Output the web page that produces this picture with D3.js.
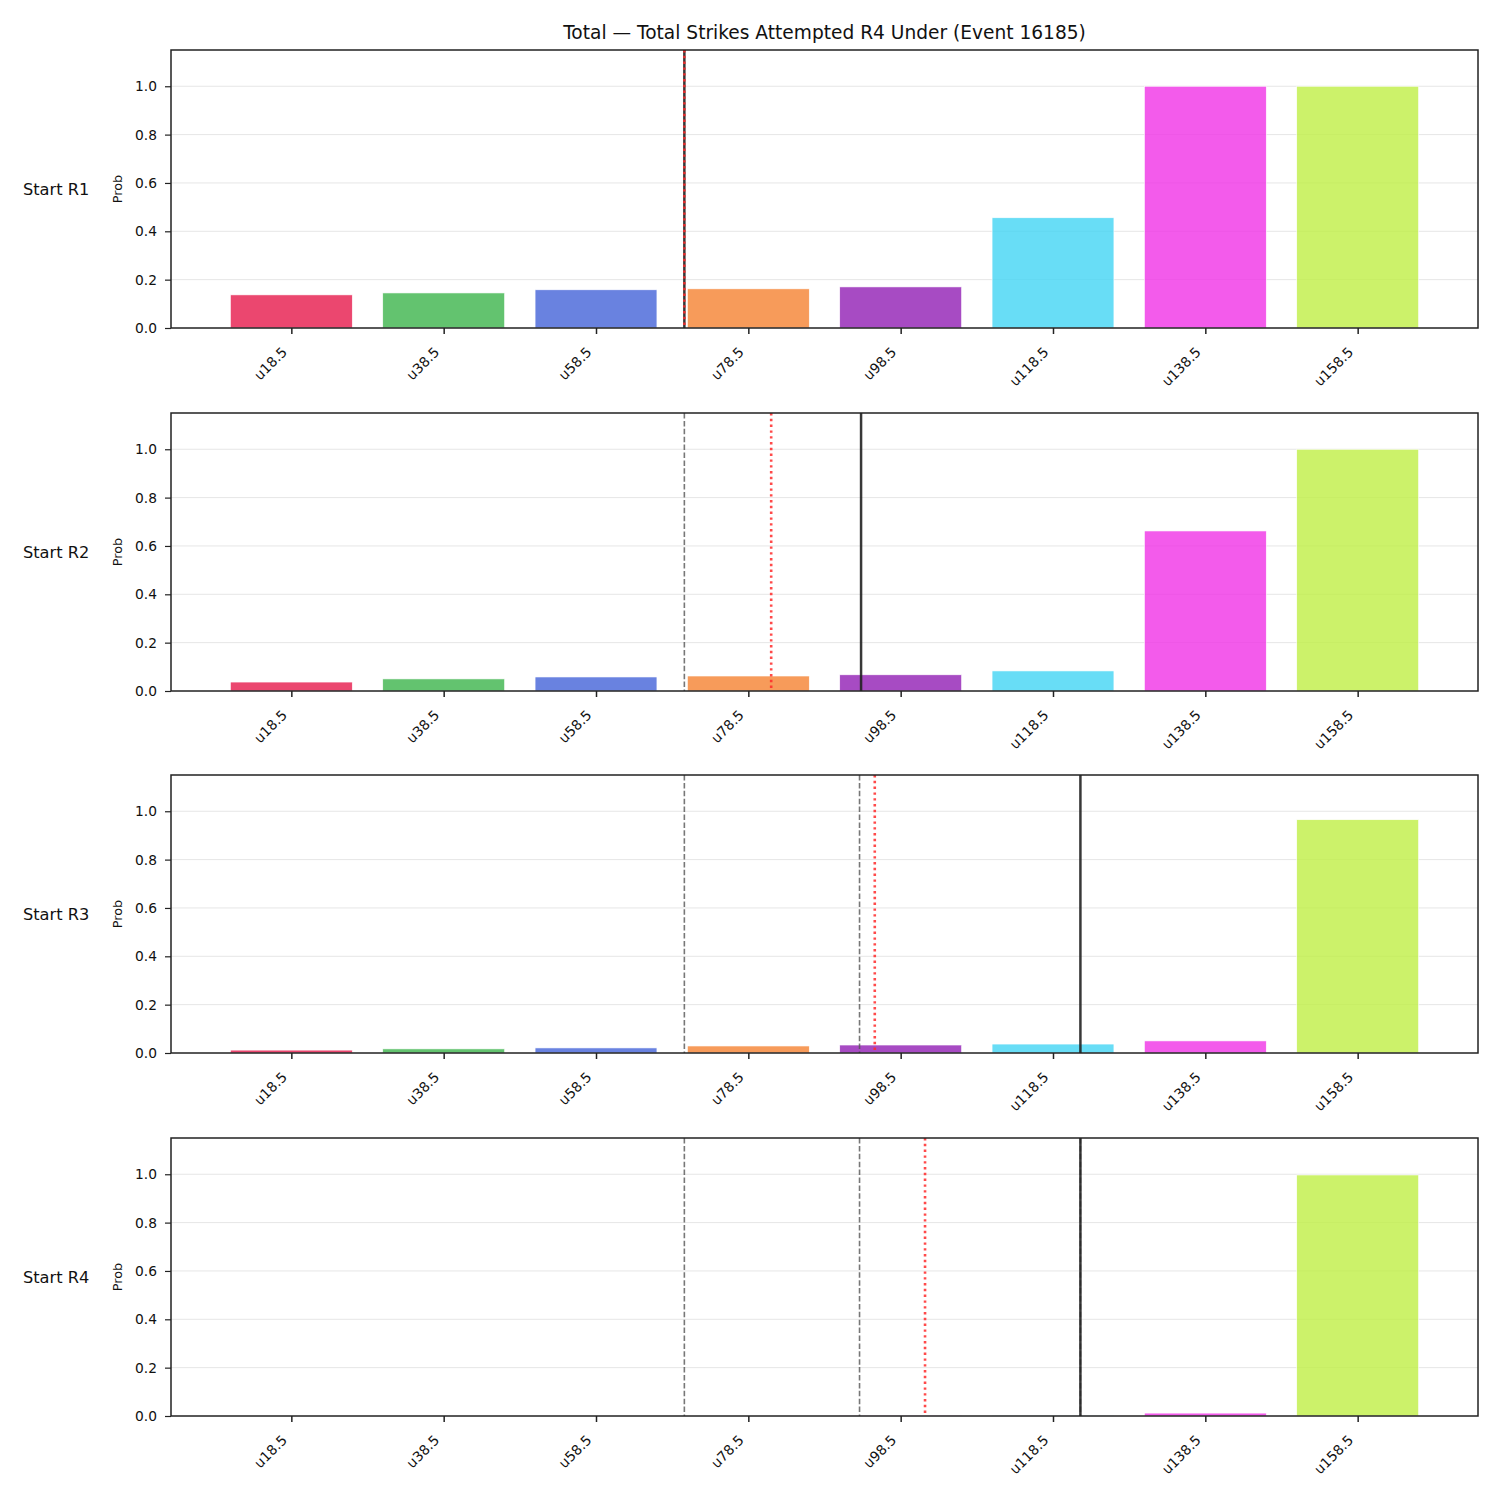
<!DOCTYPE html>
<html lang="en">
	<head>
		<meta charset="utf-8">
		<title>Total Strikes Attempted R4 Under</title>
		<script type="text/javascript" src="https://cdn.jsdelivr.net/npm/d3@7"></script>
		<style type="text/css">
			body { margin: 0; background: #fff; }
			text { font-family: "DejaVu Sans", sans-serif; fill: #111; }
		</style>
	</head>
	<body>
		<script type="text/javascript">

			//Categories (lines)
			var lines = ["u18.5", "u38.5", "u58.5", "u78.5", "u98.5", "u118.5", "u138.5", "u158.5"];
			var rows = ["Start R1", "Start R2", "Start R3", "Start R4"];

			//Probabilities per row
			var probR1 = [0.137, 0.145, 0.158, 0.162, 0.170, 0.456, 1.0, 1.0];
			var probR2 = [0.037, 0.050, 0.058, 0.062, 0.067, 0.083, 0.662, 1.0];
			var probR3 = [0.012, 0.017, 0.021, 0.029, 0.033, 0.037, 0.050, 0.965];
			var probR4 = [0.0, 0.0, 0.0, 0.0, 0.001, 0.001, 0.012, 0.997];
			var probs = [probR1, probR2, probR3, probR4];

			//Vertical markers, in category-index units
			var actual = [2.58, 3.74, 5.18, 5.18];          //black solid
			var projected = [2.58, 3.15, 3.83, 4.16];       //red dotted
			var previous = [[], [2.58], [2.58, 3.73], [2.58, 3.73, 5.18]]; //gray dashed

			var yTicks = [0, 0.2, 0.4, 0.6, 0.8, 1.0];

			var colors = ["#e6194b", "#3cb44b", "#4363d8", "#f58231", "#911eb4", "#42d4f4", "#f032e6", "#bfef45"];

			//Width and height
			var w = 1500;
			var h = 1500;
			var left = 171, right = 1478;
			var tops = [50, 413, 775, 1138];
			var ph = 278;

			var svg = d3.select("body")
						.append("svg")
						.attr("width", w)
						.attr("height", h);

			svg.append("text")
				.attr("x", (left + right) / 2)
				.attr("y", 39)
				.attr("text-anchor", "middle")
				.style("font-size", "18.6px")
				.text("Total \u2014 Total Strikes Attempted R4 Under (Event 16185)");

			var x = d3.scaleLinear().domain([-0.79, 7.79]).range([left, right]);
			var bw = x(0.8) - x(0);

			rows.forEach(function(row, r) {
				var top = tops[r];
				var y = d3.scaleLinear().domain([0, 1.15]).range([top + ph, top]);
				var g = svg.append("g");

				//grid
				g.selectAll(".grid")
					.data(yTicks.slice(1))
					.enter()
					.append("line")
					.attr("x1", left).attr("x2", right)
					.attr("y1", function(d) { return y(d); })
					.attr("y2", function(d) { return y(d); })
					.style("stroke", "#e6e6e6")
					.style("stroke-width", 1);

				//bars
				g.selectAll("rect")
					.data(probs[r])
					.enter()
					.append("rect")
					.attr("x", function(d, i) { return x(i) - bw / 2; })
					.attr("width", bw)
					.attr("y", function(d) { return y(d); })
					.attr("height", function(d) { return y(0) - y(d); })
					.style("fill", function(d, i) { return colors[i]; })
					.style("fill-opacity", 0.8)
					.style("stroke", "#fff")
					.style("stroke-width", 0.6);

				//previous actuals
				g.selectAll(".prev")
					.data(previous[r])
					.enter()
					.append("line")
					.attr("x1", function(d) { return x(d); })
					.attr("x2", function(d) { return x(d); })
					.attr("y1", top).attr("y2", top + ph)
					.style("stroke", "#555")
					.style("stroke-opacity", 0.8)
					.style("stroke-width", 1.6)
					.style("stroke-dasharray", "5.5,2.4");

				//actual
				g.append("line")
					.attr("x1", x(actual[r])).attr("x2", x(actual[r]))
					.attr("y1", top).attr("y2", top + ph)
					.style("stroke", "#222")
					.style("stroke-width", 2.5)
					.style("stroke-opacity", 0.9);

				//projected
				g.append("line")
					.attr("x1", x(projected[r])).attr("x2", x(projected[r]))
					.attr("y1", top).attr("y2", top + ph)
					.style("stroke", "#ff2a2a")
					.style("stroke-opacity", 0.85)
					.style("stroke-width", 2.6)
					.style("stroke-dasharray", "2.4,3.4");

				//frame
				g.append("rect")
					.attr("x", left).attr("y", top)
					.attr("width", right - left).attr("height", ph)
					.style("fill", "none")
					.style("stroke", "#222")
					.style("stroke-width", 1.5);

				//y axis
				var ya = g.append("g")
					.attr("transform", "translate(" + left + ",0)")
					.call(d3.axisLeft(y).tickValues(yTicks).tickFormat(d3.format(".1f")).tickSize(6).tickPadding(8));
				ya.select(".domain").remove();
				ya.selectAll("line").style("stroke", "#222").style("stroke-width", 1.2);
				ya.selectAll("text").style("font-size", "13.8px").style("font-family", "DejaVu Sans");

				//x axis
				var xa = g.append("g")
					.attr("transform", "translate(0," + (top + ph) + ")")
					.call(d3.axisBottom(x).tickValues(d3.range(lines.length)).tickFormat(function(d) { return lines[d]; }).tickSize(6));
				xa.select(".domain").remove();
				xa.selectAll("line").style("stroke", "#222").style("stroke-width", 1.5);
				xa.selectAll("text")
					.style("font-size", "13.8px")
					.style("font-family", "DejaVu Sans")
					.attr("text-anchor", "end")
					.attr("x", 0)
					.attr("y", 0)
					.attr("dy", 0)
					.attr("transform", "translate(-4,25) rotate(-45)");

				//Prob label
				svg.append("text")
					.attr("transform", "translate(122," + (top + ph / 2) + ") rotate(-90)")
					.attr("text-anchor", "middle")
					.style("font-size", "12.8px")
					.text("Prob");

				//row label
				svg.append("text")
					.attr("x", 23)
					.attr("y", top + ph / 2 + 6)
					.style("font-size", "16.2px")
					.text(row);
			});

		</script>
	</body>
</html>
